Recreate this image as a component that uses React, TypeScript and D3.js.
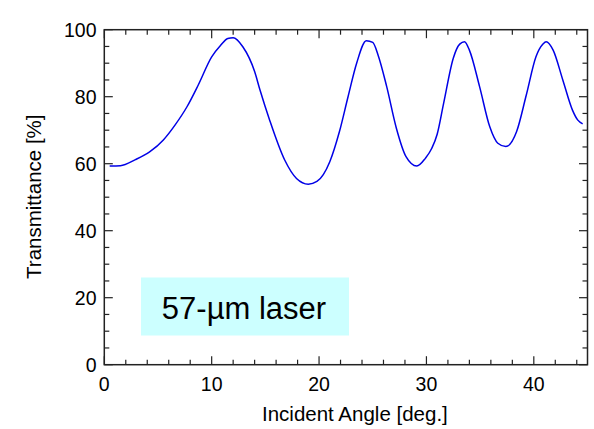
import React from "react";
import * as d3 from "d3";

const angles = [
  0.5, 1.5, 2.9, 4.25, 5.5, 6.6, 7.7, 8.75, 10.0, 10.8, 11.5, 12.0, 12.9, 14.0, 14.5, 15.4,
  16.8, 17.9, 19.0, 19.8, 21.0, 21.9, 22.7, 23.5, 24.4, 25.0, 25.5, 26.3, 27.2, 28.1, 29.1,
  29.9, 30.5, 31.0, 31.6, 32.5, 33.1, 33.55, 34.0, 34.95, 35.9, 36.65, 37.4, 38.4, 39.3,
  40.2, 40.85, 41.15, 41.8, 42.7, 43.6, 44.1, 44.55,
];
const transmittance = [
  59.3, 59.4, 61.2, 63.6, 67.1, 71.6, 77.0, 83.5, 91.9, 95.2, 97.4, 97.6, 94.9, 87.5, 82.0, 73.0,
  61.1, 55.6, 53.9, 54.7, 60.6, 69.6, 80.0, 90.0, 96.7, 96.2, 92.4, 83.0, 70.6, 62.1, 59.3,
  61.6, 64.6, 68.8, 78.0, 91.5, 95.7, 96.4, 93.9, 83.0, 71.0, 66.1, 65.1, 69.6, 80.5,
  91.9, 95.7, 96.4, 93.9, 85.0, 76.0, 73.0, 71.9,
];
const xMajorTicks = [0, 10, 20, 30, 40];
const xMinorTicks = [2, 4, 6, 8, 12, 14, 16, 18, 22, 24, 26, 28, 32, 34, 36, 38, 42, 44];
const yMajorTicks = [0, 20, 40, 60, 80, 100];
const yMinorTicks = [5, 10, 15, 25, 30, 35, 45, 50, 55, 65, 70, 75, 85, 90, 95];
const xLabel = "Incident Angle [deg.]";
const yLabel = "Transmittance [%]";
const annotation = "57-µm laser";

const W = 594;
const H = 429;
const left = 104.3;
const right = 587.5;
const top = 29.7;
const bottom = 364.7;
const font = "'Liberation Sans', Arial, Helvetica, sans-serif";

export default function App() {
  const x = d3.scaleLinear().domain([0, 45]).range([left, right]);
  const y = d3.scaleLinear().domain([0, 100]).range([bottom, top]);
  const pts: [number, number][] = angles.map((a, i) => [a, transmittance[i]]);
  const line = d3
    .line<[number, number]>()
    .x((d) => x(d[0]))
    .y((d) => y(d[1]))
    .curve(d3.curveMonotoneX);

  const axisColor = "#222";
  const major = 8.5;
  const minor = 5;

  return (
    <svg
      width={W}
      height={H}
      style={{ position: "fixed", left: 0, top: 0, background: "#fff" }}
      fontFamily={font}
    >
      <rect x={0} y={0} width={W} height={H} fill="#fff" />
      {/* annotation box */}
      <rect x={141} y={277.5} width={208} height={58} fill="#ccffff" />
      <text x={244} y={318.5} fontSize={31} textAnchor="middle" fill="#000">
        {annotation}
      </text>

      {/* curve */}
      <path d={line(pts) || ""} fill="none" stroke="#0000e6" strokeWidth={1.5} />

      {/* frame */}
      <rect
        x={left}
        y={top}
        width={right - left}
        height={bottom - top}
        fill="none"
        stroke={axisColor}
        strokeWidth={1.5}
      />
      {/* x ticks */}
      {xMajorTicks.map((t) => (
        <g key={"xM" + t}>
          <line x1={x(t)} x2={x(t)} y1={bottom} y2={bottom - major} stroke={axisColor} strokeWidth={1.2} />
          <line x1={x(t)} x2={x(t)} y1={top} y2={top + major} stroke={axisColor} strokeWidth={1.2} />
          <text x={x(t)} y={390.5} fontSize={19.5} textAnchor="middle" fill="#000">
            {t}
          </text>
        </g>
      ))}
      {xMinorTicks.map((t) => (
        <g key={"xm" + t}>
          <line x1={x(t)} x2={x(t)} y1={bottom} y2={bottom - minor} stroke={axisColor} strokeWidth={1.2} />
          <line x1={x(t)} x2={x(t)} y1={top} y2={top + minor} stroke={axisColor} strokeWidth={1.2} />
        </g>
      ))}
      {/* y ticks */}
      {yMajorTicks.map((t) => (
        <g key={"yM" + t}>
          <line x1={left} x2={left + major} y1={y(t)} y2={y(t)} stroke={axisColor} strokeWidth={1.2} />
          <line x1={right} x2={right - major} y1={y(t)} y2={y(t)} stroke={axisColor} strokeWidth={1.2} />
          <text x={96.5} y={y(t)} dy="0.36em" fontSize={19.5} textAnchor="end" fill="#000">
            {t}
          </text>
        </g>
      ))}
      {yMinorTicks.map((t) => (
        <g key={"ym" + t}>
          <line x1={left} x2={left + minor} y1={y(t)} y2={y(t)} stroke={axisColor} strokeWidth={1.2} />
          <line x1={right} x2={right - minor} y1={y(t)} y2={y(t)} stroke={axisColor} strokeWidth={1.2} />
        </g>
      ))}
      {/* axis labels */}
      <text x={(left + right) / 2 + 9} y={421} fontSize={20.5} textAnchor="middle" fill="#000">
        {xLabel}
      </text>
      <text
        transform={`translate(40.5, ${(top + bottom) / 2 - 0.5}) rotate(-90)`}
        fontSize={20.5}
        textAnchor="middle"
        fill="#000"
      >
        {yLabel}
      </text>
    </svg>
  );
}
